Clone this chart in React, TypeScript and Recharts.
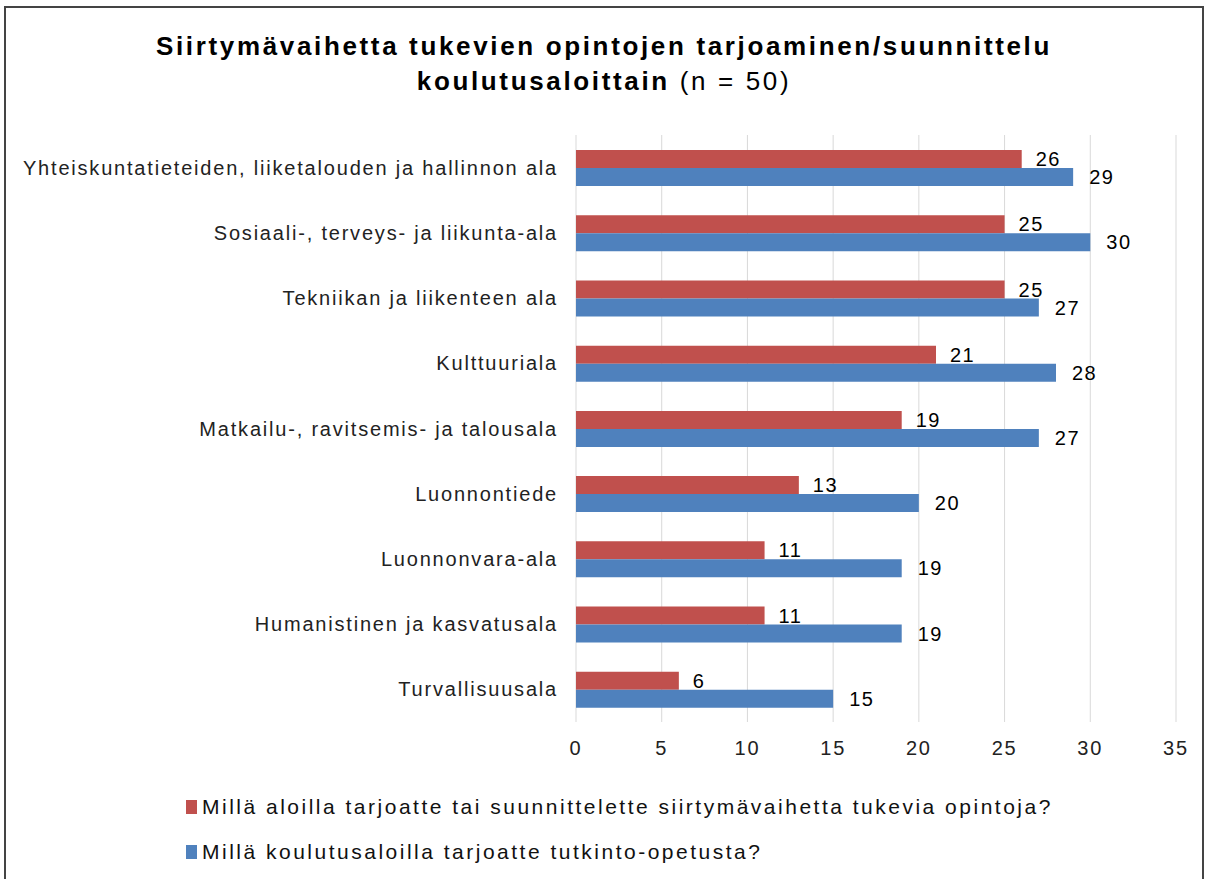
import React from 'react';
import { BarChart, Bar, XAxis, YAxis, CartesianGrid, LabelList } from 'recharts';

const categories = [
  'Yhteiskuntatieteiden, liiketalouden ja hallinnon ala',
  'Sosiaali-, terveys- ja liikunta-ala',
  'Tekniikan ja liikenteen ala',
  'Kulttuuriala',
  'Matkailu-, ravitsemis- ja talousala',
  'Luonnontiede',
  'Luonnonvara-ala',
  'Humanistinen ja kasvatusala',
  'Turvallisuusala',
];
const transitionStudies = [26, 25, 25, 21, 19, 13, 11, 11, 6];
const degreeEducation = [29, 30, 27, 28, 27, 20, 19, 19, 15];
const seriesNames = [
  'Millä aloilla tarjoatte tai suunnittelette siirtymävaihetta tukevia opintoja?',
  'Millä koulutusaloilla tarjoatte tutkinto-opetusta?',
];
const seriesColors = ['#C0504D', '#4F81BD'];
const xTicks = [0, 5, 10, 15, 20, 25, 30, 35];

const data = categories.map((name, i) => ({
  name,
  a: transitionStudies[i],
  b: degreeEducation[i],
}));

const FONT = '"Liberation Sans", Arial, sans-serif';
const textStyle = { fontSize: 20, fill: '#222', fontFamily: FONT, letterSpacing: 1.8 };

export default function App() {
  return (
    <div style={{ position: 'absolute', left: 0, top: 0, width: 1208, height: 879, background: '#fff', overflow: 'hidden', fontFamily: FONT }}>
      <div style={{ position: 'absolute', left: 4, top: 6, width: 1200, height: 900, border: '2px solid #444', boxSizing: 'border-box' }} />
      <div style={{ position: 'absolute', left: 0, top: 29, width: 1208, textAlign: 'center', fontSize: 26, lineHeight: '35px', color: '#000', letterSpacing: 2.65 }}>
        <div style={{ fontWeight: 'bold' }}>Siirtymävaihetta tukevien opintojen tarjoaminen/suunnittelu</div>
        <div><span style={{ fontWeight: 'bold' }}>koulutusaloittain</span> (n = 50)</div>
      </div>
      <div style={{ position: 'absolute', left: 0, top: 0 }}>
        <BarChart
          width={1208}
          height={879}
          data={data}
          layout="vertical"
          margin={{ top: 135, right: 32, bottom: 117, left: 0 }}
          barGap={0}
          barSize={18}
        >
          <CartesianGrid horizontal={false} stroke="#d9d9d9" />
          <XAxis
            type="number"
            domain={[0, 35]}
            ticks={xTicks}
            axisLine={false}
            tickLine={false}
            tickMargin={13}
            height={40}
            tick={textStyle}
          />
          <YAxis
            type="category"
            dataKey="name"
            width={576}
            axisLine={false}
            tickLine={false}
            tickMargin={12}
            interval={0}
            tick={textStyle}
          />
          <Bar dataKey="a" fill={seriesColors[0]} isAnimationActive={false}>
            <LabelList dataKey="a" position="right" offset={14} style={{ fontSize: 20, fill: '#000', fontFamily: FONT, letterSpacing: 1.5 }} />
          </Bar>
          <Bar dataKey="b" fill={seriesColors[1]} isAnimationActive={false}>
            <LabelList dataKey="b" position="right" offset={16} style={{ fontSize: 20, fill: '#000', fontFamily: FONT, letterSpacing: 1.5 }} />
          </Bar>
        </BarChart>
      </div>
      <div style={{ position: 'absolute', left: 186, top: 784, fontSize: 21, color: '#111', letterSpacing: 2.5 }}>
        {seriesNames.map((n, i) => (
          <div key={n} style={{ display: 'flex', alignItems: 'center', height: 45, whiteSpace: 'nowrap' }}>
            <span style={{ display: 'inline-block', width: 11, height: 14, background: seriesColors[i], marginRight: 5 }} />
            <span>{n}</span>
          </div>
        ))}
      </div>
    </div>
  );
}
